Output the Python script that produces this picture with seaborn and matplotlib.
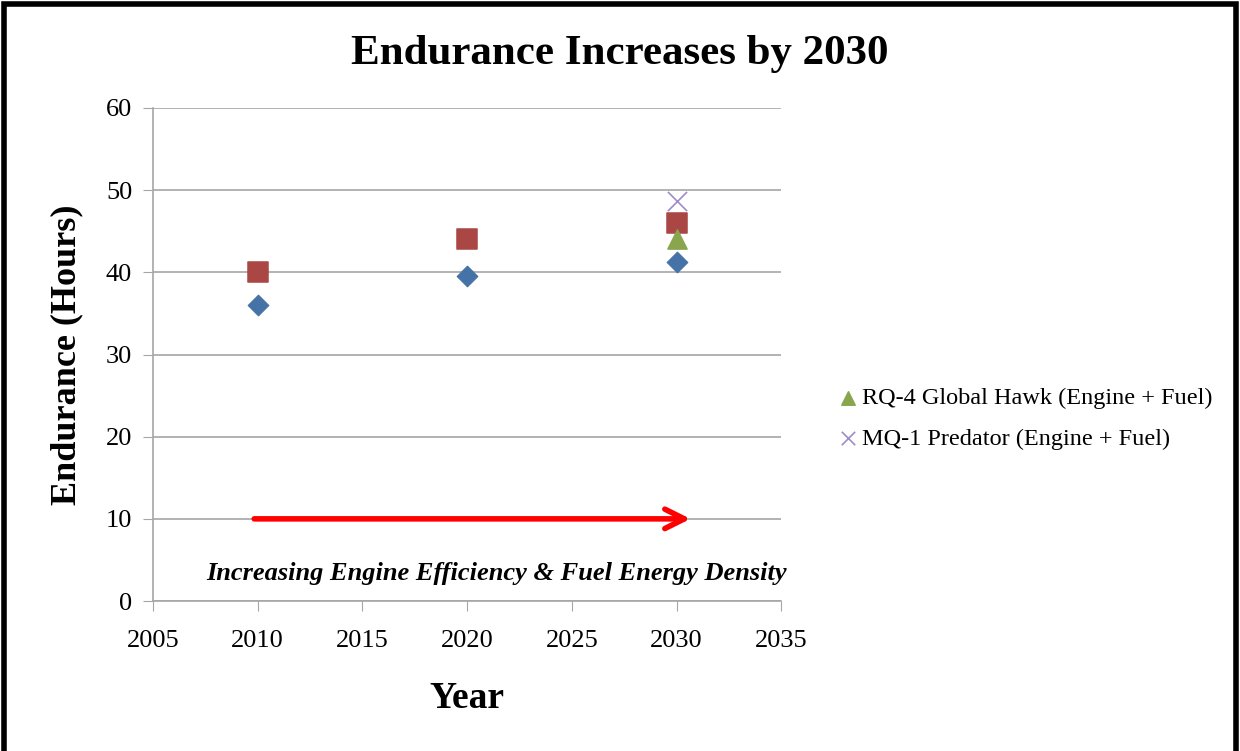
import matplotlib
matplotlib.use("Agg")
import matplotlib.pyplot as plt
import seaborn as sns
import pandas as pd

# data
years = [2010, 2020, 2030]
engine_only = [36.0, 39.5, 41.3]
engine_fuel = [40.0, 44.0, 46.0]
hawk_year = [2030]
hawk_val = [44.0]
predator_year = [2030]
predator_val = [48.7]

sns.set_style("white")
plt.rcParams['font.family'] = ['Liberation Serif', 'DejaVu Serif']
plt.rcParams['text.color'] = 'black'
plt.rcParams['axes.labelcolor'] = 'black'
plt.rcParams['xtick.color'] = 'black'
plt.rcParams['ytick.color'] = 'black'

fig = plt.figure(figsize=(12.4, 7.51), dpi=100)
ax = fig.add_axes([0.1234, 0.1997, 0.5066, 0.6565])

df1 = pd.DataFrame({'Year': years, 'Endurance': engine_only})
df2 = pd.DataFrame({'Year': years, 'Endurance': engine_fuel})
df3 = pd.DataFrame({'Year': hawk_year, 'Endurance': hawk_val})
df4 = pd.DataFrame({'Year': predator_year, 'Endurance': predator_val})

sns.scatterplot(data=df1, x='Year', y='Endurance', marker='D', s=110, color='#4572A7',
                edgecolor='#4572A7', ax=ax, legend=False, zorder=3)
sns.scatterplot(data=df2, x='Year', y='Endurance', marker='s', s=190, color='#AA4643',
                edgecolor='#AA4643', ax=ax, legend=False, zorder=3)
sns.scatterplot(data=df3, x='Year', y='Endurance', marker='^', s=190, color='#89A54E',
                edgecolor='#89A54E', ax=ax, label='RQ-4 Global Hawk (Engine + Fuel)', zorder=3)
sns.scatterplot(data=df4, x='Year', y='Endurance', marker='x', s=190, color='#A08CC8',
                linewidth=1.2, ax=ax, label='MQ-1 Predator (Engine + Fuel)', zorder=4)

ax.set_xlim(2005, 2035)
ax.set_ylim(0, 60)
ax.set_xticks(range(2005, 2036, 5))
ax.set_yticks(range(0, 61, 10))
ax.yaxis.grid(True, color='#A6A6A6', linewidth=1.2)
ax.xaxis.grid(False)
for s in ['top', 'right']:
    ax.spines[s].set_visible(False)
for s in ['left', 'bottom']:
    ax.spines[s].set_color('#A6A6A6')
    ax.spines[s].set_linewidth(1.2)
ax.tick_params(axis='both', labelsize=19, length=7, color='#A6A6A6', direction='out',
               left=True, bottom=True)
ax.tick_params(axis='x', pad=14)
ax.tick_params(axis='y', pad=8)

ax.set_xlabel('Year', fontsize=27, fontweight='bold', labelpad=21)
ax.set_ylabel('Endurance (Hours)', fontsize=26, fontweight='bold', labelpad=16)

# arrow and note
ax.annotate('', xy=(2030.8, 10), xytext=(2009.7, 10),
            arrowprops=dict(arrowstyle='->', color='red', lw=4, mutation_scale=35))
ax.text(2021.4, 3.4, 'Increasing Engine Efficiency & Fuel Energy Density', fontsize=19,
        fontweight='bold', fontstyle='italic', ha='center', va='center')

fig.text(0.5, 0.928, 'Endurance Increases by 2030', fontsize=31, fontweight='bold',
         ha='center', va='center')

leg = ax.legend(loc='center left', bbox_to_anchor=(1.068, 0.37), frameon=False,
                fontsize=17.5, handletextpad=0.05, markerscale=0.7, labelspacing=0.75,
                handlelength=1.0, borderpad=0)

# frame around the whole figure
fig.patches.append(plt.Rectangle((0.003, -0.05), 0.994, 1.045, transform=fig.transFigure,
                                 fill=False, edgecolor='black', linewidth=4))

fig.savefig('out.png', dpi=100)
